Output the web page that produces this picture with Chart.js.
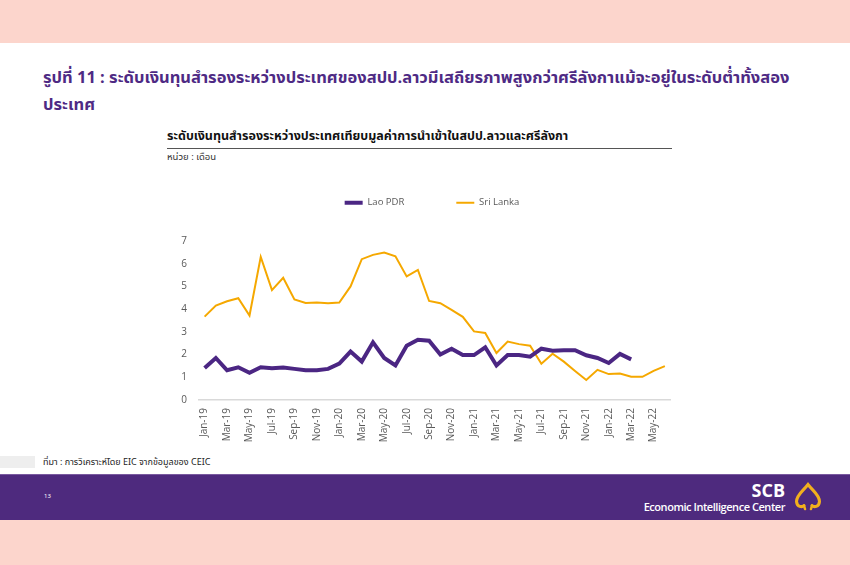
<!DOCTYPE html>
<html>
<head>
<meta charset="utf-8">
<script src="https://cdn.jsdelivr.net/npm/chart.js@4.4.1/dist/chart.umd.min.js"></script>
<style>
  body { margin: 0; width: 850px; height: 565px; background: #fcd5cc; position: relative; overflow: hidden;
         font-family: "Noto Sans Thai", "Noto Sans", "Open Sans", sans-serif; }
  .slide { position: absolute; left: 0; top: 43px; width: 850px; height: 431px; background: #fff; }
  .footer { position: absolute; left: 0; top: 474px; width: 850px; height: 46px; background: #4e2a7e;
            border-top: 1px solid #7a5aa0; box-sizing: border-box; }
  .title { position: absolute; left: 43px; top: 64px; width: 800px; color: #4e2a84; font-weight: bold;
           font-size: 16.5px; line-height: 27px; }
  .sub { position: absolute; left: 167px; top: 127px; width: 505px; font-size: 12.5px; font-weight: bold; color: #111;
         border-bottom: 1px solid #555; padding-bottom: 2px; }
  .unit { position: absolute; left: 167px; top: 150px; font-size: 9.5px; color: #333; }
  .src { position: absolute; left: 43px; top: 455px; font-size: 9px; color: #222; }
  .greybox { position: absolute; left: 0; top: 456px; width: 35px; height: 12px; background: #eeeeee; }
  .page { position: absolute; left: 44px; top: 492px; font-size: 6px; color: #fff; }
  .scb { position: absolute; right: 65px; top: 478px; font-size: 18px; font-weight: bold; color: #fff; font-family: "Open Sans", sans-serif; }
  .eic { position: absolute; right: 65px; top: 499px; font-size: 11px; font-weight: 600; color: #fff; font-family: "Open Sans", sans-serif; letter-spacing: -0.45px; }
  #wrap { position: absolute; left: 160px; top: 185px; width: 525px; height: 260px; }
</style>
</head>
<body>
<div class="slide"></div>
<div class="title">รูปที่ 11 : ระดับเงินทุนสำรองระหว่างประเทศของสปป.ลาวมีเสถียรภาพสูงกว่าศรีลังกาแม้จะอยู่ในระดับต่ำทั้งสอง<br>ประเทศ</div>
<div class="sub">ระดับเงินทุนสำรองระหว่างประเทศเทียบมูลค่าการนำเข้าในสปป.ลาวและศรีลังกา</div>
<div class="unit">หน่วย : เดือน</div>
<div id="wrap"><canvas id="reserveChart"></canvas></div>
<div class="greybox"></div>
<div class="src">ที่มา : การวิเคราะห์โดย EIC จากข้อมูลของ CEIC</div>
<div class="footer"></div>
<div class="page">13</div>
<div class="scb">SCB</div>
<div class="eic">Economic Intelligence Center</div>
<svg style="position:absolute;left:793px;top:482px" width="30" height="30" viewBox="0 0 30 30">
  <path d="M11 23.5 C9 25.5 4 25 3.5 19.5 C3.5 13 10 9 15 2.5 C20 9 26.5 13 26.5 19.5 C26 25 21 25.5 19 23.5"
        fill="none" stroke="#f2b01e" stroke-width="3" stroke-linecap="round"/>
  <path d="M11 23.5 L12 27 M19 23.5 L18 27" fill="none" stroke="#f2b01e" stroke-width="2.5" stroke-linecap="round"/>
</svg>
<script>
var months = ['Jan-19','Feb-19','Mar-19','Apr-19','May-19','Jun-19','Jul-19','Aug-19','Sep-19','Oct-19','Nov-19','Dec-19',
              'Jan-20','Feb-20','Mar-20','Apr-20','May-20','Jun-20','Jul-20','Aug-20','Sep-20','Oct-20','Nov-20','Dec-20',
              'Jan-21','Feb-21','Mar-21','Apr-21','May-21','Jun-21','Jul-21','Aug-21','Sep-21','Oct-21','Nov-21','Dec-21',
              'Jan-22','Feb-22','Mar-22','Apr-22','May-22','Jun-22'];
var laoPDR = [1.41, 1.85, 1.31, 1.44, 1.20, 1.44, 1.40, 1.43, 1.37, 1.31, 1.31, 1.37,
              1.60, 2.13, 1.69, 2.54, 1.85, 1.52, 2.39, 2.65, 2.61, 2.00, 2.26, 1.98,
              1.98, 2.32, 1.52, 1.98, 1.98, 1.91, 2.26, 2.17, 2.19, 2.19, 1.97, 1.85,
              1.63, 2.03, 1.79, null, null, null];
var sriLanka = [3.67, 4.16, 4.35, 4.48, 3.72, 6.30, 4.84, 5.38, 4.43, 4.27, 4.29, 4.26,
                4.29, 5.00, 6.20, 6.39, 6.49, 6.33, 5.44, 5.73, 4.36, 4.26, 3.97, 3.66,
                3.02, 2.95, 2.07, 2.57, 2.46, 2.39, 1.60, 2.04, 1.69, 1.28, 0.88, 1.33,
                1.14, 1.17, 1.02, 1.02, 1.28, 1.49];
var yTicks = [0, 1, 2, 3, 4, 5, 6, 7];

var tickColor = '#595959';

// legend: fixed box height so the plot starts at the right place,
// wide item gap (labels.padding) and the box moved so the row sits where it should
var legendFix = {
    id: 'legendFix',
    beforeInit: function (chart) {
        var fit = chart.legend.fit;
        chart.legend.fit = function () {
            fit.call(this);
            this.height = 53;
        };
    },
    afterLayout: function (chart) {
        chart.legend.left += 16;
        chart.legend.right += 16;
        chart.legend.top -= 42;
    }
};

var ctx = document.getElementById('reserveChart').getContext('2d');
var reserveChart = new Chart(ctx, {
    type: 'line',
    data: {
        labels: months,
        datasets: [{
            label: 'Lao PDR',
            data: laoPDR,
            borderColor: '#4b2683',
            backgroundColor: '#4b2683',
            borderWidth: 4,
            pointRadius: 0,
            tension: 0,
            pointStyle: 'line',
        }, {
            label: 'Sri Lanka',
            data: sriLanka,
            borderColor: '#f5a800',
            backgroundColor: '#f5a800',
            borderWidth: 2,
            pointRadius: 0,
            tension: 0,
            pointStyle: 'line',
        }],
    },
    options: {
        responsive: true,
        maintainAspectRatio: false,
        animation: false,
        layout: {
            padding: { left: 0, right: 13, top: 3, bottom: 0 },
        },
        plugins: {
            legend: {
                display: true,
                labels: {
                    color: tickColor,
                    font: { size: 9.5, family: 'Open Sans' },
                    usePointStyle: true,
                    pointStyleWidth: 18,
                    padding: 52,
                },
            },
            tooltip: { enabled: false },
        },
        scales: {
            x: {
                offset: true,
                grid: { display: false, drawTicks: false },
                border: { color: '#d9d9d9', width: 1.5 },
                afterFit: function (scale) { scale.height = 45; },
                ticks: {
                    autoSkip: false,
                    maxRotation: 90,
                    minRotation: 90,
                    padding: 8,
                    color: tickColor,
                    font: { size: 10, family: 'Open Sans' },
                    callback: function (value, index) {
                        return index % 2 === 0 ? months[index] : '';
                    },
                },
            },
            y: {
                min: yTicks[0],
                max: yTicks[yTicks.length - 1],
                grid: { display: false, drawTicks: false },
                border: { display: false },
                afterFit: function (scale) { scale.width = 39; },
                afterBuildTicks: function (scale) {
                    scale.ticks = yTicks.map(function (v) { return { value: v }; });
                },
                ticks: {
                    padding: 12,
                    color: tickColor,
                    font: { size: 10, family: 'Open Sans' },
                },
            },
        },
    },
    plugins: [legendFix],
});
</script>
</body>
</html>
